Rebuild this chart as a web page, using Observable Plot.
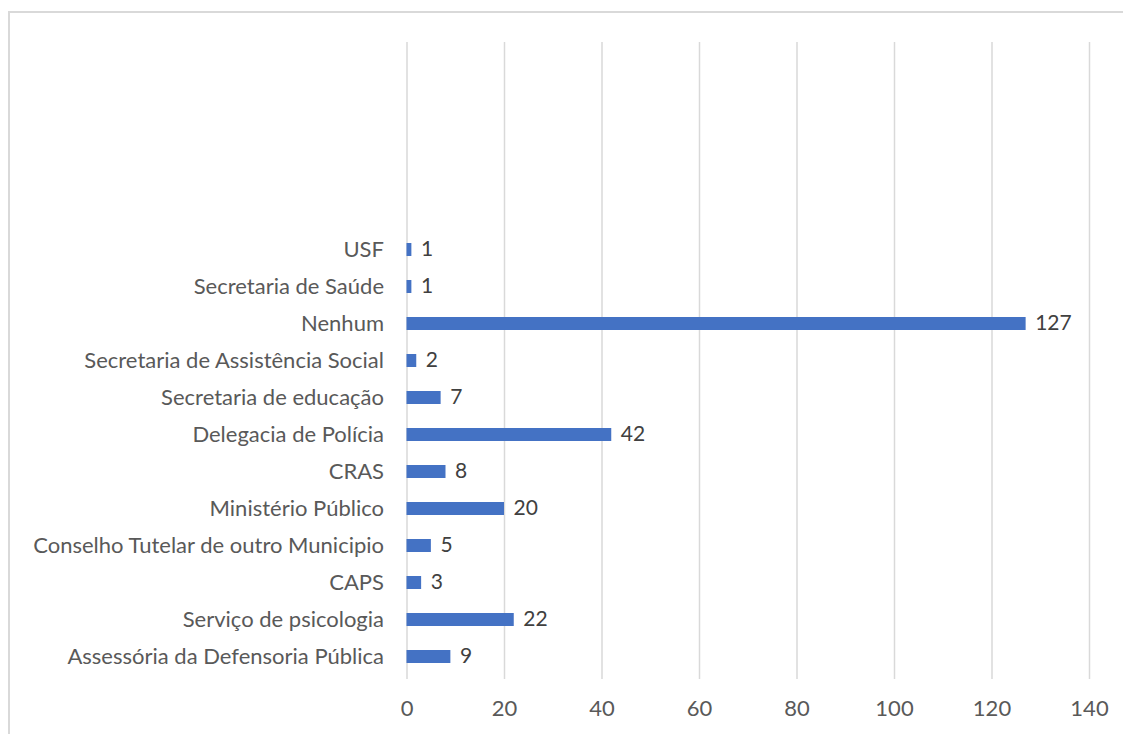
<!DOCTYPE html>
<html>
<head>
<meta charset="utf-8">
<script src="https://cdn.jsdelivr.net/npm/d3@7"></script>
<script src="https://cdn.jsdelivr.net/npm/@observablehq/plot@0.6"></script>
<style>
  html, body { margin: 0; padding: 0; background: #fff; overflow: hidden; width: 1123px; height: 734px; }
  #border { position: absolute; left: 8px; top: 11px; width: 1140px; height: 760px; border: 2px solid #d9d9d9; box-sizing: border-box; }
  #chart { position: absolute; left: 0; top: 0; }
</style>
</head>
<body>
<div id="border"></div>
<div id="chart"></div>
<script>
const categories = [
  "USF",
  "Secretaria de Saúde",
  "Nenhum",
  "Secretaria de Assistência Social",
  "Secretaria de educação",
  "Delegacia de Polícia",
  "CRAS",
  "Ministério Público",
  "Conselho Tutelar de outro Municipio",
  "CAPS",
  "Serviço de psicologia",
  "Assessória da Defensoria Pública"
];
const values = [1, 1, 127, 2, 7, 42, 8, 20, 5, 3, 22, 9];
const emptySlots = ["\u2003", "\u2003\u2003", "\u2003\u2003\u2003", "\u2003\u2003\u2003\u2003", "\u2003\u2003\u2003\u2003\u2003"];
const xTicks = [0, 20, 40, 60, 80, 100, 120, 140];

const data = categories.map((c, i) => ({category: c, value: values[i]}));
const font = "Lato, 'Open Sans', sans-serif";

const chart = Plot.plot({
  width: 1123,
  height: 734,
  marginLeft: 406.5,
  marginRight: 34,
  marginTop: 42,
  marginBottom: 55,
  style: {fontFamily: font, fontSize: "22px", color: "#595959", background: "transparent"},
  x: {domain: [0, 140], ticks: xTicks, grid: false, label: null, tickSize: 0, tickPadding: 21},
  y: {domain: [...emptySlots, ...categories], paddingInner: 0.645, paddingOuter: 0.3225, label: null, tickSize: 0, tickPadding: 23},
  marks: [
    Plot.ruleX(xTicks, {stroke: "#d9d9d9", strokeWidth: 1.5}),
    Plot.barX(data, {x: "value", y: "category", fill: "#4472c4"}),
    Plot.text(data, {x: "value", y: "category", text: d => String(d.value), textAnchor: "start", dx: 9, dy: -1, fill: "#404040", fontSize: 21})
  ]
});
document.getElementById("chart").appendChild(chart);
</script>
</body>
</html>
